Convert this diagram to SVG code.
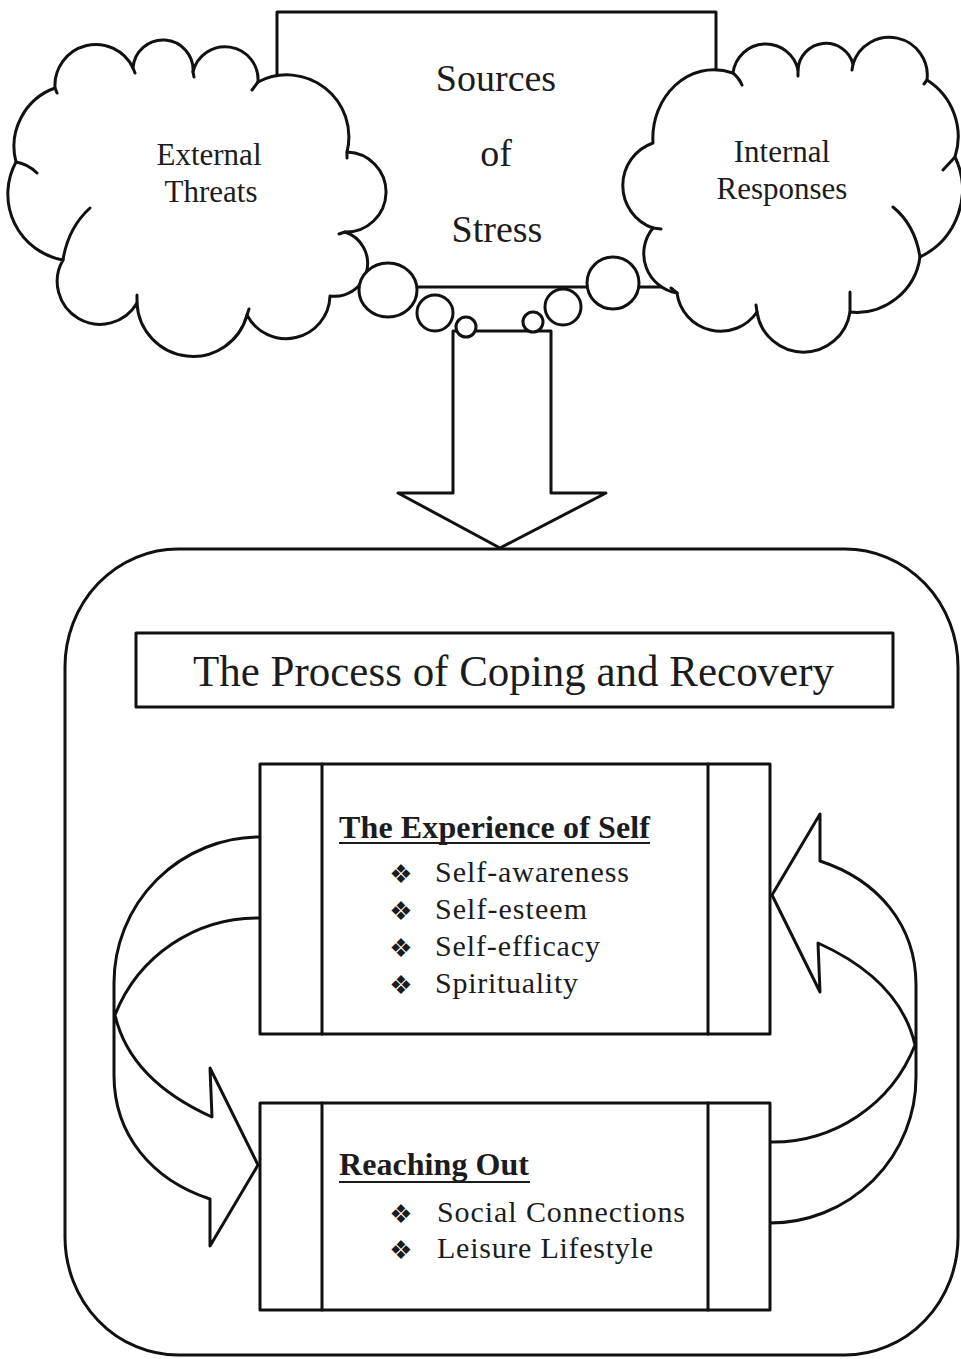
<svg xmlns="http://www.w3.org/2000/svg" width="961" height="1359" viewBox="0 0 961 1359">
<style>
.ln{fill:none;stroke:#111;stroke-width:3;stroke-linejoin:round;stroke-linecap:round}
.sh{fill:#fff;stroke:#111;stroke-width:3;stroke-linejoin:round}
.t{font-family:"Liberation Serif","Times New Roman",serif;fill:#1c1c1c}
.b{font-weight:bold}
.bul{font-family:"DejaVu Sans",sans-serif;font-size:26px;fill:#1c1c1c}
.ul{stroke:#1c1c1c;stroke-width:2}
</style>
<rect width="961" height="1359" fill="#fff"/>

<g id="sources">
<rect class="sh" x="277" y="12" width="439" height="275"/>
<text class="t" x="496" y="91" font-size="38" text-anchor="middle">Sources</text>
<text class="t" x="496" y="166" font-size="38" text-anchor="middle">of</text>
<text class="t" x="497" y="242" font-size="38" text-anchor="middle">Stress</text>
</g>

<g id="external-threats">
<path class="sh" d="M 55 88 A 41 41 0 0 1 133 68 A 30 30 0 0 1 193 72 A 33 33 0 0 1 258 82 A 62 62 0 0 1 347 152 A 40 40 0 0 1 345 232 A 33 33 0 0 1 330 296 A 44 44 0 0 1 247 315 A 56 56 0 0 1 137 303 A 42 42 0 0 1 63 260 A 67 67 0 0 1 16 162 A 62 62 0 0 1 55 88 Z"/>
<path class="ln" d="M 90 208 Q 68 228 63 260 M 16 162 Q 28 164 37 173 M 55 88 L 57 93 M 133 68 L 135 73 M 193 72 L 194 77 M 258 82 L 252 90 M 347 152 L 347 158 M 345 232 L 339 234 M 247 315 L 249 309 M 137 303 L 137 295"/>
<text class="t" x="209" y="165" font-size="31" text-anchor="middle">External</text>
<text class="t" x="211" y="202" font-size="31" text-anchor="middle">Threats</text>
</g>

<g id="internal-responses">
<path class="sh" d="M 653 143 C 650 98 688 58 733 73 A 33 33 0 0 1 798 70 A 28 28 0 0 1 853 64 A 38 38 0 0 1 927 80 A 67 67 0 0 1 955 157 A 75 75 0 0 1 920 257 A 64 64 0 0 1 850 312 A 47 47 0 0 1 757 312 A 44 44 0 0 1 677 293 A 40 40 0 0 1 653 228 A 45 45 0 0 1 653 143 Z"/>
<path class="ln" d="M 733 73 Q 739 78 742 85 M 798 70 L 798 76 M 853 64 L 852 70 M 927 80 L 924 84 M 955 157 L 943 170 M 893 207 Q 915 225 920 257 M 850 312 L 850 292 M 757 312 L 756 305 M 677 293 L 671 288 M 653 228 L 661 229"/>
<text class="t" x="782" y="162" font-size="31" text-anchor="middle">Internal</text>
<text class="t" x="782" y="199" font-size="31" text-anchor="middle">Responses</text>
</g>

<g id="process">
<rect class="sh" x="65" y="549" width="893" height="806" rx="113" ry="118"/>
</g>

<g id="title">
<rect class="sh" x="136" y="633" width="757" height="74"/>
<text class="t" x="193" y="686" font-size="44" textLength="641" lengthAdjust="spacingAndGlyphs">The Process of Coping and Recovery</text>
</g>

<g id="connectors">
<path class="sh" d="M 453 331 L 551 331 L 551 493 L 606 493 L 500 548 L 398 493 L 453 493 Z"/>
<path class="ln" d="M 260 837 A 146 146 0 0 0 114 983 L 114 1075 C 114 1135 152 1180 210 1199 L 210 1246 L 258 1165 L 210 1068 L 212 1117 Q 130 1080 115 1015 A 153 153 0 0 1 260 918"/>
<path class="ln" transform="rotate(180 515 1030)" d="M 260 837 A 146 146 0 0 0 114 983 L 114 1075 C 114 1135 152 1180 210 1199 L 210 1246 L 258 1165 L 210 1068 L 212 1117 Q 130 1080 115 1015 A 153 153 0 0 1 260 918"/>
</g>

<g id="bubbles">
<ellipse class="sh" cx="388" cy="290" rx="29" ry="27"/>
<circle class="sh" cx="435" cy="313" r="18"/>
<circle class="sh" cx="466" cy="327" r="10"/>
<circle class="sh" cx="613" cy="283" r="26"/>
<circle class="sh" cx="563" cy="307" r="18"/>
<circle class="sh" cx="533" cy="322" r="10"/>
</g>

<g id="experience-of-self">
<rect class="sh" x="260" y="764" width="510" height="270"/>
<line class="ln" x1="322" y1="764" x2="322" y2="1034"/>
<line class="ln" x1="708" y1="764" x2="708" y2="1034"/>
<text class="t b" x="339" y="838" font-size="32" textLength="311">The Experience of Self</text>
<line class="ul" x1="339" y1="843" x2="650" y2="843"/>
<text class="bul" x="401" y="883" text-anchor="middle">❖</text>
<text class="t" x="435" y="882" font-size="30" textLength="194">Self-awareness</text>
<text class="bul" x="401" y="920" text-anchor="middle">❖</text>
<text class="t" x="435" y="919" font-size="30" textLength="152">Self-esteem</text>
<text class="bul" x="401" y="957" text-anchor="middle">❖</text>
<text class="t" x="435" y="956" font-size="30" textLength="165">Self-efficacy</text>
<text class="bul" x="401" y="994" text-anchor="middle">❖</text>
<text class="t" x="435" y="993" font-size="30" textLength="143">Spirituality</text>
</g>

<g id="reaching-out">
<rect class="sh" x="260" y="1103" width="510" height="207"/>
<line class="ln" x1="322" y1="1103" x2="322" y2="1310"/>
<line class="ln" x1="708" y1="1103" x2="708" y2="1310"/>
<text class="t b" x="339" y="1175" font-size="32" textLength="190">Reaching Out</text>
<line class="ul" x1="339" y1="1182" x2="530" y2="1182"/>
<text class="bul" x="401" y="1223" text-anchor="middle">❖</text>
<text class="t" x="437" y="1222" font-size="30" textLength="248">Social Connections</text>
<text class="bul" x="401" y="1259" text-anchor="middle">❖</text>
<text class="t" x="437" y="1258" font-size="30" textLength="216">Leisure Lifestyle</text>
</g>
</svg>
